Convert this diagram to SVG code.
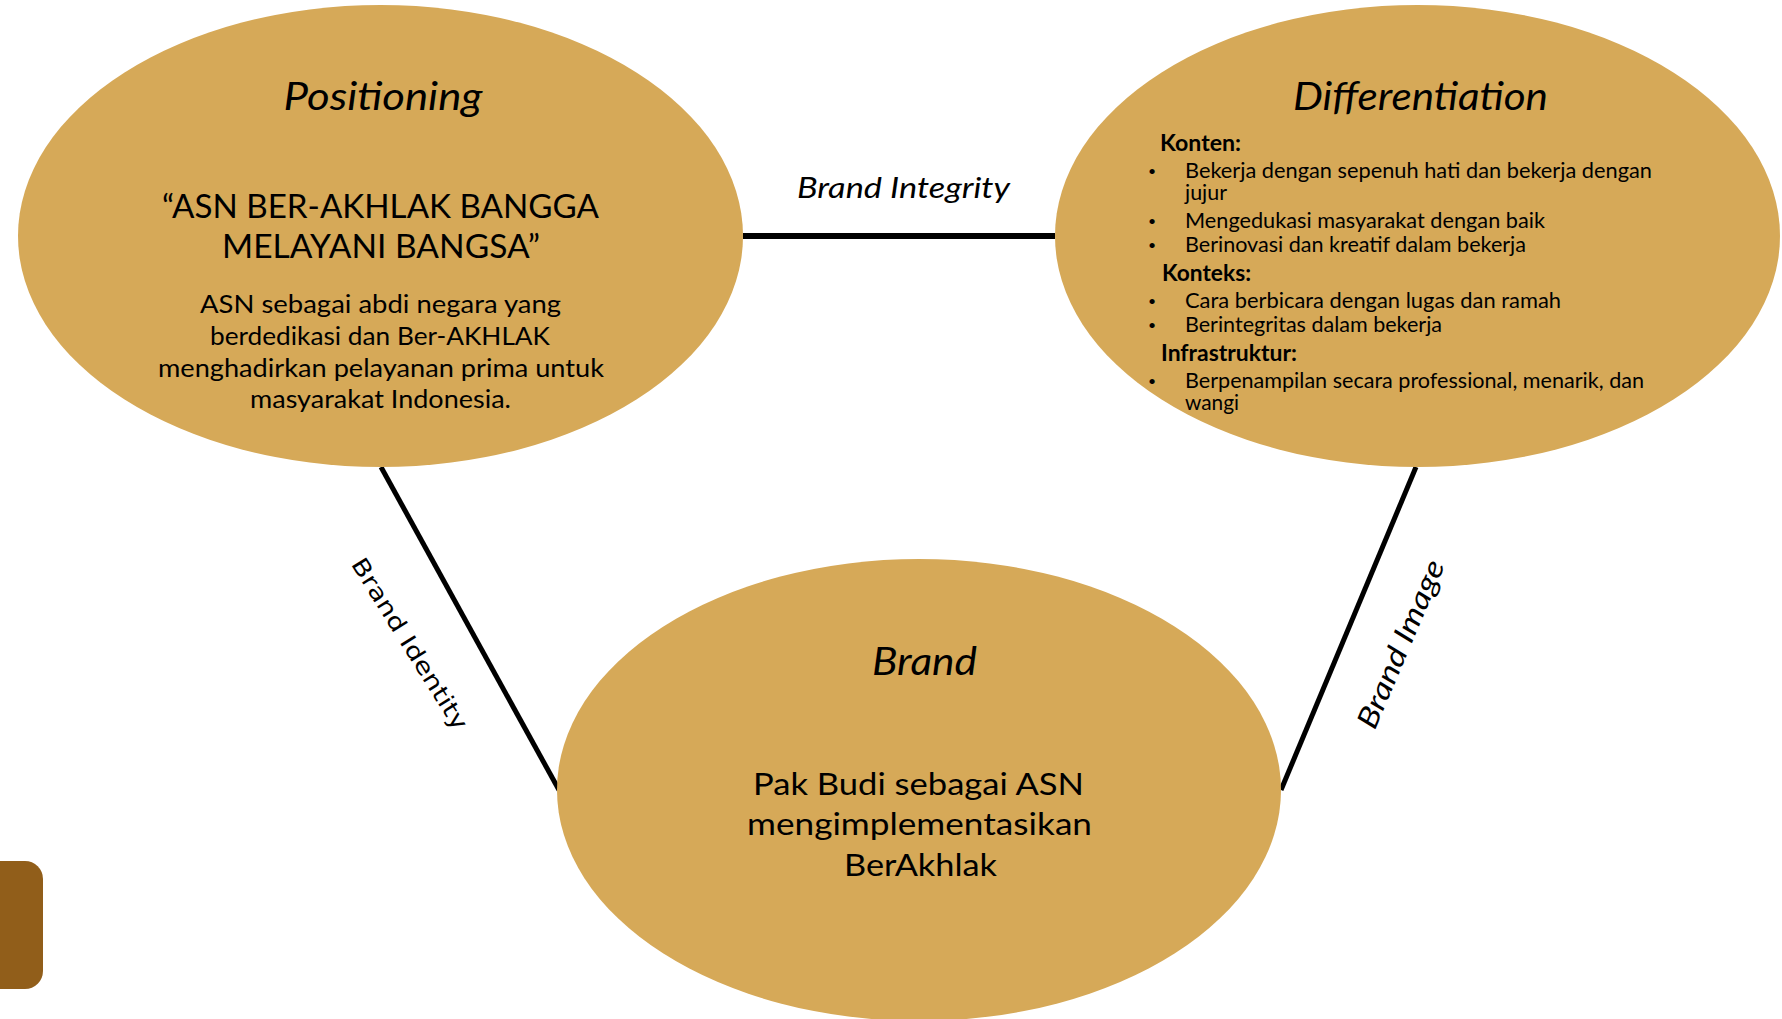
<svg xmlns="http://www.w3.org/2000/svg" width="1782" height="1019" viewBox="0 0 1782 1019">
<style>
.node{fill:#D6A958;}
.t{font-family:Lato,"Open Sans","Noto Sans",sans-serif;fill:#000;}
.ttl{font-size:38px;font-style:italic;text-anchor:middle;}
.c{text-anchor:middle;}
.hd{font-size:22px;font-weight:bold;}
.bl{font-size:21px;}
.bu{font-size:14px;text-anchor:middle;}
.conn{stroke:#000;stroke-linecap:butt;fill:none;}
.lbl{font-size:29px;font-style:italic;}
</style>
<rect width="1782" height="1019" fill="#fff"/>
<g id="connectors">
<line class="conn" x1="743" y1="236" x2="1055" y2="236" stroke-width="6"/>
<line class="conn" x1="381" y1="467" x2="559" y2="790" stroke-width="5"/>
<line class="conn" x1="1416" y1="467" x2="1281" y2="790" stroke-width="5"/>
<text class="t lbl" x="797" y="198" textLength="213" lengthAdjust="spacingAndGlyphs">Brand Integrity</text>
<text font-family="'DejaVu Sans',sans-serif" font-size="23" text-anchor="middle" transform="translate(403,648) rotate(58)" textLength="198" lengthAdjust="spacingAndGlyphs">Brand Identity</text>
<text class="t lbl" text-anchor="middle" transform="translate(1410,648) rotate(-67)" textLength="180" lengthAdjust="spacingAndGlyphs">Brand Image</text>
</g>
<g id="positioning">
<ellipse class="node" cx="380.5" cy="236" rx="362.5" ry="231"/>
<text class="t ttl" x="383" y="110" textLength="199" lengthAdjust="spacingAndGlyphs">Positioning</text>
<text class="t c" x="380.5" y="218" font-size="32" textLength="437" lengthAdjust="spacingAndGlyphs">“ASN BER-AKHLAK BANGGA</text>
<text class="t c" x="381" y="258" font-size="32" textLength="318" lengthAdjust="spacingAndGlyphs">MELAYANI BANGSA”</text>
<text class="t c" x="380.5" y="313" font-size="25" textLength="361" lengthAdjust="spacingAndGlyphs">ASN sebagai abdi negara yang</text>
<text class="t c" x="380" y="345" font-size="25" textLength="340" lengthAdjust="spacingAndGlyphs">berdedikasi dan Ber-AKHLAK</text>
<text class="t c" x="381" y="377" font-size="25" textLength="446" lengthAdjust="spacingAndGlyphs">menghadirkan pelayanan prima untuk</text>
<text class="t c" x="380.5" y="408" font-size="25" textLength="261" lengthAdjust="spacingAndGlyphs">masyarakat Indonesia.</text>
</g>
<g id="differentiation">
<ellipse class="node" cx="1417.5" cy="236" rx="362.5" ry="231"/>
<text class="t ttl" x="1420.5" y="110" textLength="255" lengthAdjust="spacingAndGlyphs">Differentiation</text>
<text class="t hd" x="1160" y="151" textLength="81" lengthAdjust="spacingAndGlyphs">Konten:</text>
<text class="t bu" x="1152" y="176">•</text>
<text class="t bl" x="1185" y="178" textLength="467" lengthAdjust="spacingAndGlyphs">Bekerja dengan sepenuh hati dan bekerja dengan</text>
<text class="t bl" x="1185" y="200" textLength="42" lengthAdjust="spacingAndGlyphs">jujur</text>
<text class="t bu" x="1152" y="226">•</text>
<text class="t bl" x="1185" y="228" textLength="360" lengthAdjust="spacingAndGlyphs">Mengedukasi masyarakat dengan baik</text>
<text class="t bu" x="1152" y="250">•</text>
<text class="t bl" x="1185" y="252" textLength="341" lengthAdjust="spacingAndGlyphs">Berinovasi dan kreatif dalam bekerja</text>
<text class="t hd" x="1162" y="281" textLength="89" lengthAdjust="spacingAndGlyphs">Konteks:</text>
<text class="t bu" x="1152" y="306">•</text>
<text class="t bl" x="1185" y="308" textLength="376" lengthAdjust="spacingAndGlyphs">Cara berbicara dengan lugas dan ramah</text>
<text class="t bu" x="1152" y="330">•</text>
<text class="t bl" x="1185" y="332" textLength="257" lengthAdjust="spacingAndGlyphs">Berintegritas dalam bekerja</text>
<text class="t hd" x="1161" y="361" textLength="136" lengthAdjust="spacingAndGlyphs">Infrastruktur:</text>
<text class="t bu" x="1152" y="386">•</text>
<text class="t bl" x="1185" y="388" textLength="459" lengthAdjust="spacingAndGlyphs">Berpenampilan secara professional, menarik, dan</text>
<text class="t bl" x="1185" y="410" textLength="54" lengthAdjust="spacingAndGlyphs">wangi</text>
</g>
<g id="brand">
<ellipse class="node" cx="919" cy="790" rx="362" ry="231"/>
<text class="t ttl" x="924.5" y="675" font-size="39" textLength="105" lengthAdjust="spacingAndGlyphs">Brand</text>
<text class="t c" x="918.5" y="795" font-size="31" textLength="331" lengthAdjust="spacingAndGlyphs">Pak Budi sebagai ASN</text>
<text class="t c" x="919.5" y="835" font-size="31" textLength="345" lengthAdjust="spacingAndGlyphs">mengimplementasikan</text>
<text class="t c" x="920.5" y="876" font-size="31" textLength="153" lengthAdjust="spacingAndGlyphs">BerAkhlak</text>
</g>
<g id="side-tab">
<rect x="-20" y="861" width="63" height="128" rx="18" fill="#915E1A"/>
</g>
</svg>
